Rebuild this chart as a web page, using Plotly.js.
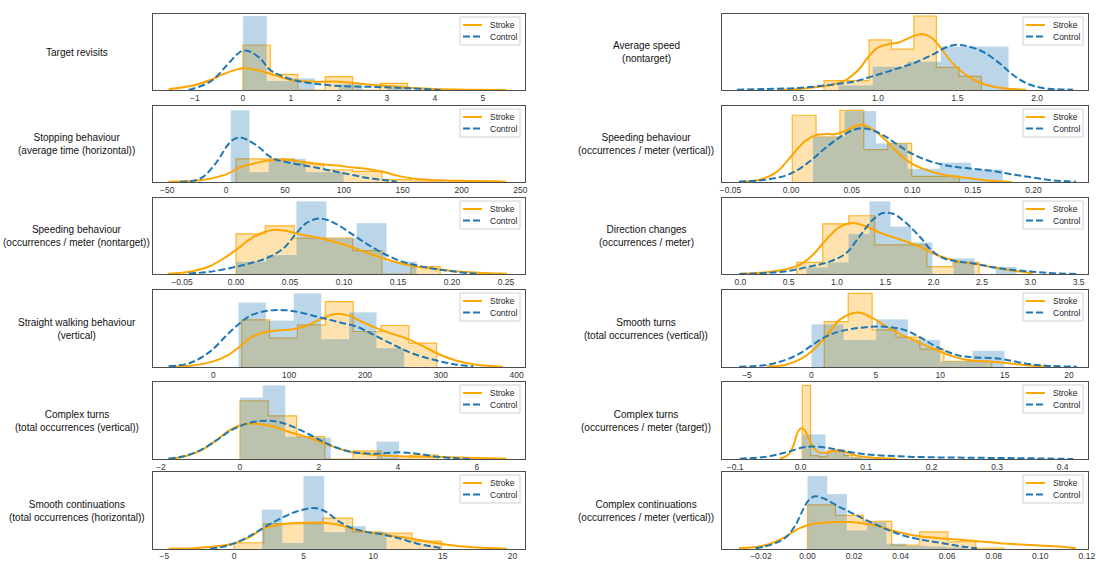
<!DOCTYPE html>
<html>
<head>
<meta charset="utf-8">
<script src="https://cdn.plot.ly/plotly-3.0.1.min.js"></script>
<style>
  html, body { margin: 0; padding: 0; background: #fff; }
  #chart { width: 1096px; height: 562px; }
</style>
</head>
<body>
<div id="chart"></div>
<script>
// ---------------------------------------------------------------
// Distributions of gait measures, Stroke vs Control.
// Histogram bin edges + bar heights, and sampled KDE curves
// (heights share one relative density scale per panel).
// ---------------------------------------------------------------

// Target revisits
const revisitsStrokeEdges = [0, 0.571, 1.143, 1.714, 2.286, 2.857, 3.429];
const revisitsStrokeHeights = [135, 47, 0, 40, 0, 20];
const revisitsControlEdges = [0, 0.5, 1.0, 1.5, 2.0, 2.5, 3.0, 3.5];
const revisitsControlHeights = [222, 28, 35, 0, 18, 0, 8];
const revisitsStrokeKdeX = [-1.55, -1.0, -0.68, -0.33, 0, 0.15, 0.5, 1.0, 1.54, 2.0, 2.5, 3.0, 3.48, 4.0, 4.66, 5.49];
const revisitsStrokeKdeY = [2, 15, 30, 52, 65, 64, 52, 30, 25, 25, 18, 12, 7, 3, 1, 0];
const revisitsControlKdeX = [-1.13, -0.68, -0.33, -0.12, 0, 0.15, 0.36, 0.57, 0.85, 1.12, 1.54, 2.0, 2.5, 3.0, 3.48, 4.0, 4.12];
const revisitsControlKdeY = [0, 25, 75, 107, 118, 115, 95, 60, 40, 28, 18, 12, 10, 8, 5, 1, 0];

// Stopping behaviour (average time, horizontal)
const stoppingStrokeEdges = [8.5, 33.3, 58.0, 82.8, 107.6, 132.3, 157.1, 181.9, 206.6, 231.4];
const stoppingStrokeHeights = [70, 70, 55, 37, 32, 7, 3, 0, 3];
const stoppingControlEdges = [4, 20, 36, 52, 68, 84, 100];
const stoppingControlHeights = [217, 30, 70, 70, 30, 30];
const stoppingStrokeKdeX = [-49, -22, 0, 12, 20, 36, 49, 63, 77, 94, 105, 119, 134, 148, 162, 182, 207, 238];
const stoppingStrokeKdeY = [1, 5, 23, 45, 53, 65, 67, 62, 55, 50, 45, 40, 30, 17, 9, 5, 3, 1];
const stoppingControlKdeX = [-39, -22, -8, 0, 6, 12, 18, 28, 36, 42, 49, 63, 77, 91, 105, 119, 134, 145];
const stoppingControlKdeY = [1, 10, 60, 105, 128, 135, 128, 105, 80, 68, 62, 52, 43, 33, 23, 13, 6, 1];

// Speeding behaviour (occurrences / meter, nontarget)
const speedNonStrokeEdges = [0, 0.027, 0.054, 0.081, 0.108, 0.135, 0.162, 0.189];
const speedNonStrokeHeights = [120, 144, 107, 107, 70, 0, 22];
const speedNonControlEdges = [0, 0.0279, 0.0558, 0.0837, 0.1116, 0.1394, 0.1673];
const speedNonControlHeights = [37, 57, 217, 107, 152, 37];
const speedNonStrokeKdeX = [-0.063, -0.043, -0.024, -0.009, 0, 0.013, 0.025, 0.035, 0.044, 0.059, 0.075, 0.09, 0.106, 0.121, 0.136, 0.152, 0.167, 0.183, 0.198, 0.229, 0.251];
const speedNonStrokeKdeY = [1, 7, 24, 52, 72, 104, 124, 132, 130, 119, 109, 97, 82, 64, 47, 32, 22, 16, 10, 3, 1];
const speedNonControlKdeX = [-0.044, -0.024, -0.002, 0.013, 0.028, 0.044, 0.056, 0.065, 0.075, 0.084, 0.093, 0.106, 0.121, 0.136, 0.152, 0.167, 0.183, 0.198, 0.217, 0.226];
const speedNonControlKdeY = [1, 7, 20, 32, 47, 77, 122, 152, 165, 162, 149, 122, 90, 62, 39, 26, 16, 9, 2, 0];

// Straight walking behaviour (vertical)
const straightStrokeEdges = [37.4, 74.1, 110.8, 147.6, 184.3, 221.0, 257.8, 294.5];
const straightStrokeHeights = [142, 87, 127, 197, 107, 125, 72];
const straightControlEdges = [33, 69.4, 105.9, 142.4, 178.9, 215.4, 251.9];
const straightControlHeights = [194, 140, 222, 84, 165, 57];
const straightStrokeKdeX = [-59, -31, 0, 18, 35, 48, 66, 84, 105, 123, 141, 158, 167, 180, 198, 215, 233, 257, 277, 299, 321, 347, 382];
const straightStrokeKdeY = [1, 4, 17, 34, 62, 87, 104, 110, 114, 124, 144, 158, 160, 154, 134, 117, 102, 84, 62, 37, 19, 7, 1];
const straightControlKdeX = [-59, -31, -4, 18, 35, 48, 66, 84, 101, 119, 136, 154, 171, 189, 207, 224, 242, 259, 277, 299, 321, 343];
const straightControlKdeY = [2, 12, 47, 97, 132, 154, 167, 172, 170, 162, 152, 142, 132, 122, 102, 82, 62, 44, 30, 17, 7, 2];

// Complex turns (total occurrences, vertical)
const cturnsTotStrokeEdges = [0, 0.717, 1.435, 2.152, 2.869, 3.586, 4.304, 5.021];
const cturnsTotStrokeHeights = [174, 129, 67, 0, 24, 0, 12];
const cturnsTotControlEdges = [0, 0.576, 1.152, 1.728, 2.304, 2.88, 3.456, 4.032];
const cturnsTotControlHeights = [184, 220, 67, 64, 0, 0, 52];
const cturnsTotStrokeKdeX = [-1.81, -1.43, -1.01, -0.59, -0.25, 0, 0.25, 0.51, 0.84, 1.27, 1.6, 1.94, 2.28, 2.62, 2.95, 3.46, 4.01, 4.47, 5.06, 5.74, 6.75];
const cturnsTotStrokeKdeY = [1, 7, 24, 57, 87, 100, 106, 104, 97, 80, 69, 55, 40, 27, 19, 12, 8, 7, 6, 4, 1];
const cturnsTotControlKdeX = [-1.81, -1.43, -1.01, -0.59, -0.25, 0.08, 0.42, 0.76, 1.1, 1.52, 1.94, 2.28, 2.62, 2.95, 3.46, 4.01, 4.47, 4.98, 5.49, 5.82];
const cturnsTotControlKdeY = [1, 8, 26, 56, 84, 102, 112, 114, 107, 87, 62, 42, 27, 19, 16, 20, 16, 7, 2, 0];

// Smooth continuations (total occurrences, horizontal)
const smoothContStrokeEdges = [0, 2.13, 4.26, 6.39, 8.52, 10.65, 12.78, 14.9];
const smoothContStrokeHeights = [19, 77, 77, 94, 52, 48, 24];
const smoothContControlEdges = [1.99, 3.48, 4.98, 6.48, 7.97, 9.47, 10.96];
const smoothContControlHeights = [120, 19, 222, 52, 70, 52];
const smoothContStrokeKdeX = [-4.71, -2.44, 0, 1.15, 2.1, 3.06, 4.02, 5.2, 6.4, 7.37, 8.3, 9.5, 10.7, 11.9, 13.1, 14.3, 15.5, 16.9, 19.6];
const smoothContStrokeKdeY = [1, 4, 17, 37, 62, 72, 78, 80, 80, 75, 64, 52, 44, 37, 29, 20, 12, 6, 1];
const smoothContControlKdeX = [-1.72, -0.77, 0, 1.15, 2.34, 3.54, 4.5, 5.45, 5.93, 6.65, 7.6, 8.56, 9.5, 10.7, 11.9, 13.1, 14.3, 15.0];
const smoothContControlKdeY = [1, 7, 17, 40, 70, 97, 114, 124, 124, 112, 82, 62, 52, 44, 32, 17, 7, 2];

// Average speed (nontarget)
const avgSpeedStrokeEdges = [0.661, 0.802, 0.944, 1.085, 1.226, 1.367, 1.509, 1.650];
const avgSpeedStrokeHeights = [28, 28, 151, 123, 223, 68, 41];
const avgSpeedControlEdges = [0.751, 0.966, 1.181, 1.394, 1.608, 1.821];
const avgSpeedControlHeights = [14, 71, 86, 131, 131];
const avgSpeedStrokeKdeX = [0.372, 0.5, 0.604, 0.709, 0.794, 0.878, 0.941, 1.004, 1.067, 1.13, 1.215, 1.278, 1.341, 1.404, 1.468, 1.552, 1.657, 1.763, 1.868, 1.931];
const avgSpeedStrokeKdeY = [1, 3, 8, 16, 29, 61, 101, 129, 138, 143, 161, 169, 156, 121, 81, 46, 19, 7, 2, 1];
const avgSpeedControlKdeX = [0.115, 0.288, 0.5, 0.709, 0.857, 0.962, 1.046, 1.13, 1.236, 1.341, 1.426, 1.489, 1.552, 1.657, 1.763, 1.847, 1.931, 2.036, 2.226];
const avgSpeedControlKdeY = [1, 3, 6, 16, 26, 41, 53, 66, 83, 106, 128, 136, 133, 116, 81, 46, 21, 6, 1];

// Speeding behaviour (occurrences / meter, vertical)
const speedVertStrokeEdges = [0.001, 0.0206, 0.0403, 0.0600, 0.0798, 0.0995, 0.1193, 0.139];
const speedVertStrokeHeights = [202, 137, 217, 98, 117, 17, 17];
const speedVertControlEdges = [0.0179, 0.044, 0.0702, 0.0963, 0.1225, 0.1486, 0.1748];
const speedVertControlHeights = [137, 215, 117, 40, 59, 38];
const speedVertStrokeKdeX = [-0.043, -0.026, -0.012, -0.004, 0.004, 0.012, 0.021, 0.029, 0.037, 0.045, 0.054, 0.059, 0.067, 0.078, 0.089, 0.1, 0.117, 0.133, 0.15, 0.167, 0.182];
const speedVertStrokeKdeY = [1, 7, 30, 60, 95, 125, 142, 145, 145, 155, 170, 173, 160, 127, 85, 55, 30, 18, 10, 3, 0];
const speedVertControlKdeX = [-0.043, -0.021, -0.004, 0.007, 0.018, 0.029, 0.04, 0.051, 0.059, 0.067, 0.078, 0.089, 0.1, 0.117, 0.133, 0.15, 0.167, 0.183, 0.2, 0.216, 0.235];
const speedVertControlKdeY = [1, 7, 20, 40, 70, 105, 135, 157, 163, 157, 137, 110, 85, 60, 47, 40, 33, 23, 13, 5, 1];

// Direction changes (occurrences / meter)
const dirChangeStrokeEdges = [0.583, 0.852, 1.122, 1.391, 1.66, 1.93, 2.2, 2.47];
const dirChangeStrokeHeights = [35, 150, 174, 87, 87, 22, 35];
const dirChangeControlEdges = [0.683, 0.9, 1.118, 1.335, 1.553, 1.77, 1.988, 2.205, 2.423, 2.64, 2.858];
const dirChangeControlHeights = [20, 35, 120, 217, 142, 95, 0, 47, 0, 22];
const dirChangeStrokeKdeX = [-0.01, 0.266, 0.473, 0.611, 0.749, 0.887, 1.025, 1.163, 1.301, 1.44, 1.578, 1.716, 1.854, 1.992, 2.13, 2.268, 2.44, 2.613, 2.82, 3.027];
const dirChangeStrokeKdeY = [1, 5, 14, 27, 57, 102, 140, 152, 142, 124, 110, 97, 82, 62, 47, 37, 30, 20, 10, 2];
const dirChangeControlKdeX = [-0.01, 0.438, 0.715, 0.922, 1.094, 1.232, 1.37, 1.474, 1.578, 1.716, 1.854, 1.992, 2.13, 2.268, 2.44, 2.613, 2.82, 3.027, 3.234, 3.476];
const dirChangeControlKdeY = [0, 7, 22, 37, 62, 112, 162, 182, 180, 152, 112, 67, 44, 37, 30, 20, 12, 7, 2, 0];

// Smooth turns (total occurrences, vertical)
const smoothTurnsStrokeEdges = [1, 2.857, 4.714, 6.571, 8.429, 10.286, 12.143, 14];
const smoothTurnsStrokeHeights = [137, 222, 112, 90, 54, 17, 17];
const smoothTurnsControlEdges = [0, 2.5, 5, 7.5, 10, 12.5, 15];
const smoothTurnsControlHeights = [129, 82, 144, 82, 17, 49];
const smoothTurnsStrokeKdeX = [-3.5, -1.97, -0.93, 0.1, 1.14, 2.18, 3.21, 3.73, 4.77, 5.8, 6.84, 7.88, 8.91, 9.95, 11, 12, 13.6, 15.1, 17.2, 18.5];
const smoothTurnsStrokeKdeY = [1, 7, 22, 50, 92, 142, 162, 164, 147, 122, 100, 82, 64, 47, 32, 22, 17, 12, 4, 1];
const smoothTurnsControlKdeX = [-5.6, -3.5, -1.97, -0.93, 0.1, 1.14, 2.18, 3.21, 4.25, 5.28, 6.32, 7.36, 8.4, 9.43, 10.5, 11.5, 12.5, 14.1, 15.1, 16.7, 18.2, 20.6];
const smoothTurnsControlKdeY = [1, 6, 22, 40, 67, 92, 107, 115, 120, 122, 119, 110, 90, 67, 47, 34, 29, 27, 22, 10, 4, 1];

// Complex turns (occurrences / meter, target)
const cturnsTargetStrokeEdges = [0.0025, 0.0152, 0.0279, 0.0406, 0.0533, 0.066, 0.0787, 0.0914];
const cturnsTargetStrokeHeights = [220, 10, 7, 25, 27, 10, 3];
const cturnsTargetControlEdges = [0.0025, 0.0381, 0.0737, 0.1093];
const cturnsTargetControlHeights = [74, 22, 6];
const cturnsTargetStrokeKdeX = [-0.032, -0.024, -0.017, -0.011, -0.007, -0.003, 0.001, 0.005, 0.009, 0.014, 0.019, 0.024, 0.029, 0.039, 0.054, 0.07, 0.085, 0.11, 0.146];
const cturnsTargetStrokeKdeY = [1, 6, 17, 40, 67, 85, 92, 88, 77, 55, 37, 25, 19, 19, 24, 20, 10, 4, 1];
const cturnsTargetControlKdeX = [-0.093, -0.052, -0.022, 0.004, 0.019, 0.039, 0.065, 0.1, 0.151, 0.202, 0.253, 0.304, 0.355, 0.416];
const cturnsTargetControlKdeY = [1, 7, 20, 35, 37, 34, 24, 14, 8, 5, 4, 3, 2, 0];

// Complex continuations (occurrences / meter, vertical)
const complexContStrokeEdges = [0, 0.01206, 0.0241, 0.0362, 0.0482, 0.0603, 0.0723, 0.0844];
const complexContStrokeHeights = [134, 102, 84, 12, 52, 22, 3];
const complexContControlEdges = [0, 0.0085, 0.017, 0.0255, 0.034, 0.0425, 0.051, 0.0595, 0.068];
const complexContControlHeights = [222, 167, 57, 82, 17, 10, 8, 5];
const complexContStrokeKdeX = [-0.0294, -0.018, -0.0095, -0.0038, 0.0018, 0.0075, 0.0132, 0.0189, 0.0245, 0.0302, 0.0359, 0.0416, 0.05, 0.0586, 0.067, 0.0756, 0.0841, 0.0955, 0.1096, 0.1153];
const complexContStrokeKdeY = [2, 12, 37, 62, 75, 80, 82, 82, 77, 70, 57, 47, 37, 32, 27, 22, 17, 12, 7, 2];
const complexContControlKdeX = [-0.0223, -0.0152, -0.0095, -0.0052, -0.0024, 0.0004, 0.0033, 0.0075, 0.0132, 0.0189, 0.0245, 0.0302, 0.0359, 0.0416, 0.05, 0.0586, 0.067, 0.0728];
const complexContControlKdeY = [2, 14, 34, 72, 112, 147, 160, 152, 130, 110, 90, 72, 54, 40, 27, 17, 7, 2];

// Panel titles (left column top to bottom, then right column)
const panelLabels = [
  'Target revisits',
  'Stopping behaviour<br>(average time (horizontal))',
  'Speeding behaviour<br>(occurrences / meter (nontarget))',
  'Straight walking behaviour<br>(vertical)',
  'Complex turns<br>(total occurrences (vertical))',
  'Smooth continuations<br>(total occurrences (horizontal))',
  'Average speed<br>(nontarget)',
  'Speeding behaviour<br>(occurrences / meter (vertical))',
  'Direction changes<br>(occurrences / meter)',
  'Smooth turns<br>(total occurrences (vertical))',
  'Complex turns<br>(occurrences / meter (target))',
  'Complex continuations<br>(occurrences / meter (vertical))'
];
const groupNames = ['Stroke', 'Control'];

// Per-panel series bundles (same order as panelLabels)
const series = [
  [revisitsStrokeEdges, revisitsStrokeHeights, revisitsControlEdges, revisitsControlHeights, revisitsStrokeKdeX, revisitsStrokeKdeY, revisitsControlKdeX, revisitsControlKdeY],
  [stoppingStrokeEdges, stoppingStrokeHeights, stoppingControlEdges, stoppingControlHeights, stoppingStrokeKdeX, stoppingStrokeKdeY, stoppingControlKdeX, stoppingControlKdeY],
  [speedNonStrokeEdges, speedNonStrokeHeights, speedNonControlEdges, speedNonControlHeights, speedNonStrokeKdeX, speedNonStrokeKdeY, speedNonControlKdeX, speedNonControlKdeY],
  [straightStrokeEdges, straightStrokeHeights, straightControlEdges, straightControlHeights, straightStrokeKdeX, straightStrokeKdeY, straightControlKdeX, straightControlKdeY],
  [cturnsTotStrokeEdges, cturnsTotStrokeHeights, cturnsTotControlEdges, cturnsTotControlHeights, cturnsTotStrokeKdeX, cturnsTotStrokeKdeY, cturnsTotControlKdeX, cturnsTotControlKdeY],
  [smoothContStrokeEdges, smoothContStrokeHeights, smoothContControlEdges, smoothContControlHeights, smoothContStrokeKdeX, smoothContStrokeKdeY, smoothContControlKdeX, smoothContControlKdeY],
  [avgSpeedStrokeEdges, avgSpeedStrokeHeights, avgSpeedControlEdges, avgSpeedControlHeights, avgSpeedStrokeKdeX, avgSpeedStrokeKdeY, avgSpeedControlKdeX, avgSpeedControlKdeY],
  [speedVertStrokeEdges, speedVertStrokeHeights, speedVertControlEdges, speedVertControlHeights, speedVertStrokeKdeX, speedVertStrokeKdeY, speedVertControlKdeX, speedVertControlKdeY],
  [dirChangeStrokeEdges, dirChangeStrokeHeights, dirChangeControlEdges, dirChangeControlHeights, dirChangeStrokeKdeX, dirChangeStrokeKdeY, dirChangeControlKdeX, dirChangeControlKdeY],
  [smoothTurnsStrokeEdges, smoothTurnsStrokeHeights, smoothTurnsControlEdges, smoothTurnsControlHeights, smoothTurnsStrokeKdeX, smoothTurnsStrokeKdeY, smoothTurnsControlKdeX, smoothTurnsControlKdeY],
  [cturnsTargetStrokeEdges, cturnsTargetStrokeHeights, cturnsTargetControlEdges, cturnsTargetControlHeights, cturnsTargetStrokeKdeX, cturnsTargetStrokeKdeY, cturnsTargetControlKdeX, cturnsTargetControlKdeY],
  [complexContStrokeEdges, complexContStrokeHeights, complexContControlEdges, complexContControlHeights, complexContStrokeKdeX, complexContStrokeKdeY, complexContControlKdeX, complexContControlKdeY]
];

// ---- axis settings ----
const xRanges = [
  [-1.88, 5.88], [-62.3, 253.9], [-0.0772, 0.2676], [-80, 411], [-2.21, 7.22], [-5.84, 20.9],
  [0.02, 2.32], [-0.057, 0.245], [-0.19, 3.597], [-6.94, 21.47], [-0.12, 0.4387], [-0.0367, 0.1205]
];
const tickSteps = [1, 50, 0.05, 100, 2, 5, 0.5, 0.05, 0.5, 5, 0.1, 0.02];
const tickFormats = ['d', 'd', '.2f', 'd', 'd', 'd', '.1f', '.2f', '.1f', 'd', '.1f', '.2f'];
const yTops = [228, 230, 227, 232, 230, 234, 229, 230, 227, 232, 230, 234];

// ---- page geometry (pixels) ----
const W = 1096, H = 562;
const colLeft = [152.7, 722], colRight = [525, 1088];
const rowTop = [14, 106, 198, 290, 382, 472];
const rowBottom = [90, 182, 274, 367, 459, 549];
const labelOffset = 76;   // distance from axes' left edge to the centre of the row label

const ORANGE = '#FFA500';
const BLUE = '#1f77b4';
const FONT = 'Liberation Sans, Arial, Helvetica, sans-serif';

function stepOutline(edges, heights) {
  const xs = [edges[0]], ys = [0];
  for (let i = 0; i < heights.length; i++) {
    xs.push(edges[i], edges[i + 1]);
    ys.push(heights[i], heights[i]);
  }
  xs.push(edges[edges.length - 1]);
  ys.push(0);
  return { xs, ys };
}

const traces = [];
const layout = {
  width: W, height: H,
  margin: { l: 0, r: 0, t: 0, b: 0 },
  paper_bgcolor: '#ffffff',
  plot_bgcolor: '#ffffff',
  showlegend: false,
  font: { family: FONT, color: '#262626' },
  shapes: [],
  annotations: []
};

const px = p => p / W;
const py = p => 1 - p / H;

series.forEach((s, i) => {
  const [sE, sH, cE, cH, sKx, sKy, cKx, cKy] = s;
  const k = i === 0 ? '' : String(i + 1);
  const xa = 'x' + k, ya = 'y' + k;
  const col = i < 6 ? 0 : 1, row = i % 6;
  const L = colLeft[col], R = colRight[col], T = rowTop[row], B = rowBottom[row];

  const so = stepOutline(sE, sH);
  traces.push({
    type: 'scatter', mode: 'lines', x: so.xs, y: so.ys, xaxis: xa, yaxis: ya,
    fill: 'toself', fillcolor: 'rgba(255,165,0,0.32)',
    line: { color: 'rgba(255,165,0,0.8)', width: 1.2 },
    hoverinfo: 'skip', name: groupNames[0]
  });
  const co = stepOutline(cE, cH);
  traces.push({
    type: 'scatter', mode: 'lines', x: co.xs, y: co.ys, xaxis: xa, yaxis: ya,
    fill: 'toself', fillcolor: 'rgba(31,119,180,0.3)',
    line: { color: 'rgba(255,255,255,0.25)', width: 0.8 },
    hoverinfo: 'skip', name: groupNames[1]
  });
  traces.push({
    type: 'scatter', mode: 'lines', x: sKx, y: sKy, xaxis: xa, yaxis: ya,
    line: { color: ORANGE, width: 2, shape: 'spline', smoothing: 1 },
    name: groupNames[0]
  });
  traces.push({
    type: 'scatter', mode: 'lines', x: cKx, y: cKy, xaxis: xa, yaxis: ya,
    line: { color: BLUE, width: 2, dash: '7px,3px', shape: 'spline', smoothing: 1 },
    name: groupNames[1]
  });

  const axLine = { showline: true, mirror: true, linecolor: '#4d4d4d', linewidth: 1.1,
                   showgrid: false, zeroline: false };
  layout['xaxis' + k] = Object.assign({}, axLine, {
    domain: [px(L), px(R)], anchor: ya, range: xRanges[i],
    tick0: 0, dtick: tickSteps[i], tickformat: tickFormats[i],
    ticks: '', ticklabelstandoff: row === 5 ? -1 : 0,
    tickfont: { family: FONT, size: 8.5, color: '#333' }
  });
  layout['yaxis' + k] = Object.assign({}, axLine, {
    domain: [py(B), py(T)], anchor: xa, range: [0, yTops[i]],
    showticklabels: false, ticks: ''
  });

  // row label, centred at a fixed distance left of the axes
  layout.annotations.push({
    xref: 'paper', yref: 'paper', x: px(L - labelOffset), y: py((T + B) / 2),
    xanchor: 'center', yanchor: 'middle', align: 'center', showarrow: false,
    text: panelLabels[i], font: { family: FONT, size: 10, color: '#111' }
  });

  // legend box in the upper right corner of each panel
  layout.shapes.push({
    type: 'rect', xref: 'paper', yref: 'paper',
    x0: px(R - 65), x1: px(R - 5), y0: py(T + 3), y1: py(T + 31),
    fillcolor: 'rgba(255,255,255,0.8)', line: { color: 'rgba(204,204,204,0.9)', width: 1 }
  });
  const entries = [[ORANGE, 'solid', T + 11], [BLUE, '7px,3px', T + 22.5]];
  entries.forEach((e, j) => {
    layout.shapes.push({
      type: 'line', xref: 'paper', yref: 'paper',
      x0: px(R - 62), x1: px(R - 43), y0: py(e[2]), y1: py(e[2]),
      line: { color: e[0], width: 2, dash: e[1] }
    });
    layout.annotations.push({
      xref: 'paper', yref: 'paper', x: px(R - 37), y: py(e[2]),
      xanchor: 'left', yanchor: 'middle', showarrow: false,
      text: groupNames[j], font: { family: FONT, size: 8.5, color: '#262626' }
    });
  });
});

Plotly.newPlot('chart', traces, layout, { displayModeBar: false, staticPlot: true });
</script>
</body>
</html>
